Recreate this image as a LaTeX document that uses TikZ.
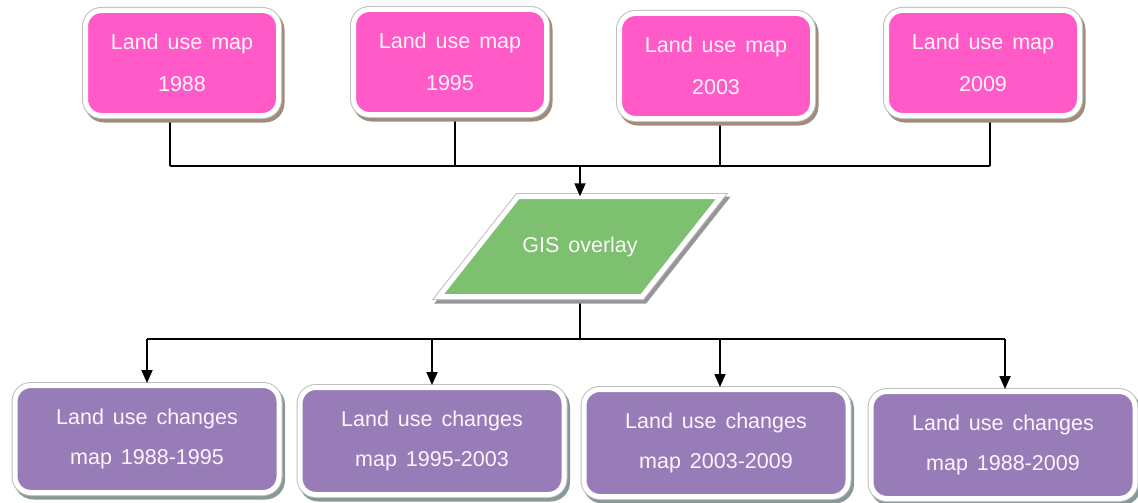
\documentclass[tikz,border=0pt]{standalone}
\usepackage{fontspec}
\setmainfont{Liberation Sans}[WordSpace=1.5]
\usetikzlibrary{arrows.meta,backgrounds,calc}
\definecolor{pinkfill}{RGB}{255,90,200}
\definecolor{purplefill}{RGB}{152,124,184}
\definecolor{greenfill}{RGB}{124,192,112}
\definecolor{pinkshadow}{RGB}{160,140,122}
\definecolor{purpleshadow}{RGB}{135,152,152}
\definecolor{greenshadow}{RGB}{150,150,150}
\definecolor{txt}{RGB}{255,244,252}
\tikzset{
  framed/.style={
    preaction={draw=#1, fill=#1, line width=7pt,
      transform canvas={xshift=2.5pt,yshift=-3.5pt}},
    preaction={draw=black!25, line width=7pt},
    draw=white, line width=5pt},
  mapbox/.style={framed=pinkshadow, fill=pinkfill, rounded corners=16pt,
    minimum width=193pt, minimum height=105pt, align=center,
    text=txt, font=\fontsize{21.5}{42}\selectfont},
  chgbox/.style={framed=purpleshadow, fill=purplefill, rounded corners=16pt,
    minimum width=264pt, minimum height=107pt, align=center,
    text=txt, font=\fontsize{21.5}{40}\selectfont},
  conn/.style={draw=black, line width=1.8pt},
  arr/.style={conn, -{Triangle[width=11pt,length=13pt]}},
}
\begin{document}
\begin{tikzpicture}[x=1pt,y=-1pt]
\useasboundingbox (0,0) rectangle (1138,503);

% top boxes
\node[mapbox] (t1) at (182,63) {Land use map\\1988};
\node[mapbox] (t2) at (450,62) {Land use map\\1995};
\node[mapbox] (t3) at (716,66) {Land use map\\2003};
\node[mapbox] (t4) at (983,63) {Land use map\\2009};

% GIS overlay parallelogram
\node[inner sep=0pt, minimum height=100pt, minimum width=10pt] (gis) at (580,246.5) {};
\path[framed=greenshadow, fill=greenfill, line join=miter]
  ($(gis.center)+(-62,-50)$) -- ($(gis.center)+(141,-50)$)
  -- ($(gis.center)+(62,50)$) -- ($(gis.center)+(-141,50)$) -- cycle;
\node[text=txt, font=\fontsize{21.5}{25}\selectfont] (gislabel) at (gis.center) {GIS overlay};

% bottom boxes
\node[chgbox] (b1) at (147,439) {Land use changes\\map 1988-1995};
\node[chgbox] (b2) at (432,441) {Land use changes\\map 1995-2003};
\node[chgbox] (b3) at (716,443) {Land use changes\\map 2003-2009};
\node[chgbox] (b4) at (1003,445) {Land use changes\\map 1988-2009};

% junctions
\coordinate (jt) at (580,166);
\coordinate (jb) at (580,339);

\begin{scope}[on background layer]
  \draw[conn] ([xshift=-12pt]t1.south) -- ([xshift=-12pt]t1.south |- jt);
  \draw[conn] ([xshift=5pt]t2.south) -- ([xshift=5pt]t2.south |- jt);
  \draw[conn] ([xshift=4pt]t3.south) -- ([xshift=4pt]t3.south |- jt);
  \draw[conn] ([xshift=7pt]t4.south) -- ([xshift=7pt]t4.south |- jt);
  \draw[conn] ([xshift=-12pt]t1.south |- jt) -- ([xshift=7pt]t4.south |- jt);
  \draw[conn] (gis.south) -- (jb);
  \draw[conn] (b1.north |- jb) -- ([xshift=2pt]b4.north |- jb);
\end{scope}

\draw[arr] (jt) -- (gis.north);
\draw[arr] (b1.north |- jb) -- (b1.north);
\draw[arr] (b2.north |- jb) -- (b2.north);
\draw[arr] ([xshift=4pt]b3.north |- jb) -- ([xshift=4pt]b3.north);
\draw[arr] ([xshift=2pt]b4.north |- jb) -- ([xshift=2pt]b4.north);
\end{tikzpicture}
\end{document}
